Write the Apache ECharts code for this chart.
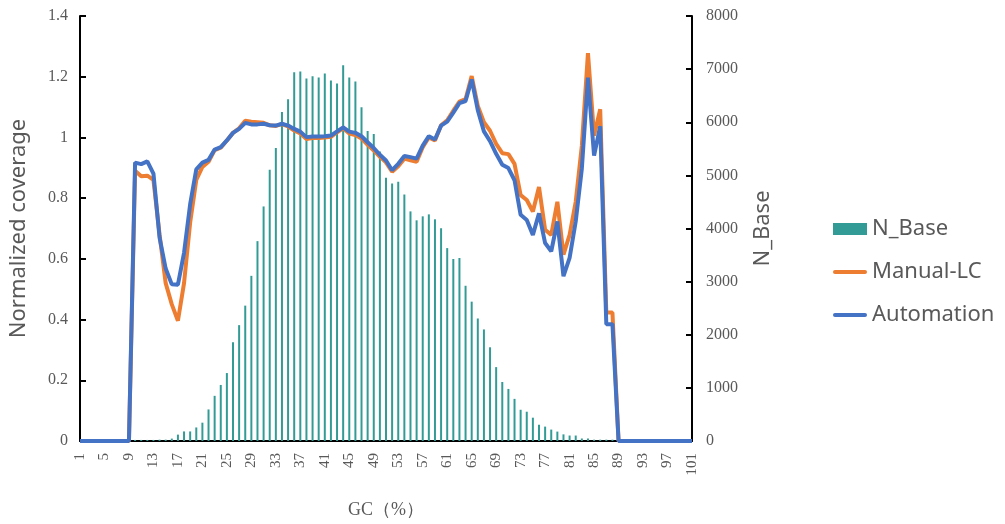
<!DOCTYPE html>
<html>
<head>
<meta charset="utf-8">
<script src="https://cdn.jsdelivr.net/npm/echarts@6/dist/echarts.min.js"></script>
<style>
html,body{margin:0;padding:0;background:#fff;}
#chart{width:1005px;height:524px;}
</style>
</head>
<body>
<div id="chart"></div>
<script>
// GC (%) categories 1..101
const categories = [];
for (let i = 1; i <= 101; i++) categories.push(String(i));

const nBase = [
  0,0,0,0,0,0,0,0,0,
  20,20,20,20,25,25,45,120,180,180,255,
  345,594,850,1055,1279,1858,2181,2548,3109,3762,
  4415,5106,5517,6195,6432,6942,6955,6824,6867,6843,
  6917,6787,6731,7073,6843,6768,6283,5834,5778,5450,
  4957,4845,4882,4640,4322,4154,4229,4266,4173,4005,
  3631,3426,3445,2922,2623,2306,2100,1764,1391,1111,
  980,793,588,551,439,308,271,215,177,125,
  103,103,47,47,25,25,25,25,
  0,0,0,0,0,0,0,0,0,0,0,0,0
];

const manualLC = [
  0,0,0,0,0,0,0,0,0,
  0.89,0.872,0.874,0.86,0.68,0.52,0.45,0.396,0.52,0.72,0.86,
  0.903,0.92,0.958,0.966,0.99,1.015,1.03,1.055,1.052,1.05,
  1.048,1.04,1.038,1.044,1.036,1.023,1.013,0.995,0.998,0.998,
  1.0,1.002,1.017,1.03,1.013,1.008,0.996,0.976,0.957,0.936,
  0.918,0.887,0.905,0.93,0.925,0.92,0.968,1.0,0.99,1.04,
  1.056,1.088,1.118,1.126,1.202,1.104,1.05,1.022,0.979,0.948,
  0.945,0.913,0.81,0.794,0.756,0.837,0.696,0.679,0.788,0.614,
  0.679,0.788,0.973,1.278,1.006,1.093,0.423,0.423,
  0,0,0,0,0,0,0,0,0,0,0,0,0
];

const automation = [
  0,0,0,0,0,0,0,0,0,
  0.917,0.912,0.921,0.881,0.67,0.568,0.516,0.515,0.62,0.78,0.895,
  0.917,0.926,0.96,0.968,0.99,1.015,1.028,1.048,1.043,1.043,
  1.045,1.04,1.039,1.045,1.039,1.028,1.019,1.001,1.003,1.003,
  1.004,1.006,1.02,1.033,1.019,1.015,1.004,0.984,0.965,0.943,
  0.924,0.892,0.913,0.939,0.935,0.93,0.973,1.004,0.993,1.039,
  1.052,1.082,1.113,1.12,1.191,1.09,1.02,0.988,0.946,0.91,
  0.899,0.859,0.745,0.728,0.679,0.75,0.652,0.625,0.723,0.543,
  0.603,0.723,0.897,1.197,0.94,1.037,0.385,0.385,
  0,0,0,0,0,0,0,0,0,0,0,0,0
];

const grey = '#595959';
const serif = '"Liberation Serif", "DejaVu Serif", serif';
const sans = '"Noto Sans", "Open Sans", sans-serif';
const lineIcon = 'path://M2,0 L32,0 A2,2 0 0 1 32,4 L2,4 A2,2 0 0 1 2,0 Z';

const chart = echarts.init(document.getElementById('chart'), null, {renderer: 'canvas'});
chart.setOption({
  animation: false,
  backgroundColor: '#ffffff',
  grid: {left: 80, right: 313, top: 16, bottom: 80, containLabel: false},
  legend: {
    orient: 'vertical',
    left: 828,
    top: 213,
    itemGap: 21,
    itemWidth: 34,
    itemHeight: 12,
    textStyle: {color: grey, fontSize: 22, fontFamily: sans},
    data: [
      {name: 'N_Base', icon: 'rect'},
      {name: 'Manual-LC', icon: lineIcon},
      {name: 'Automation', icon: lineIcon}
    ]
  },
  xAxis: {
    type: 'category',
    data: categories,
    boundaryGap: false,
    name: 'GC（%）',
    nameLocation: 'middle',
    nameGap: 60,
    nameTextStyle: {color: grey, fontSize: 18, fontFamily: serif},
    axisLine: {lineStyle: {color: '#000', width: 2}},
    axisTick: {show: false},
    axisLabel: {interval: 3, rotate: 90, color: grey, fontSize: 15, fontFamily: serif, margin: 12}
  },
  yAxis: [
    {
      type: 'value',
      min: 0, max: 1.4, interval: 0.2,
      name: 'Normalized coverage',
      nameLocation: 'middle',
      nameGap: 50,
      nameTextStyle: {color: grey, fontSize: 22, fontFamily: sans},
      axisLine: {show: true, lineStyle: {color: '#000', width: 2}},
      axisTick: {show: true, inside: true, length: 6, lineStyle: {color: '#000', width: 2}},
      axisLabel: {color: grey, fontSize: 16, fontFamily: serif, margin: 12},
      splitLine: {show: false}
    },
    {
      type: 'value',
      min: 0, max: 8000, interval: 1000,
      name: 'N_Base',
      nameLocation: 'middle',
      nameGap: 60,
      nameRotate: 90,
      nameTextStyle: {color: grey, fontSize: 22, fontFamily: sans},
      axisLine: {show: true, lineStyle: {color: '#000', width: 2}},
      axisTick: {show: true, inside: true, length: 6, lineStyle: {color: '#000', width: 2}},
      axisLabel: {color: grey, fontSize: 16, fontFamily: serif, margin: 14, formatter: function (v) { return String(v); }},
      splitLine: {show: false}
    }
  ],
  series: [
    {
      name: 'N_Base',
      type: 'bar',
      yAxisIndex: 1,
      data: nBase,
      barWidth: 2,
      itemStyle: {color: '#339B95'}
    },
    {
      name: 'Manual-LC',
      type: 'line',
      yAxisIndex: 0,
      data: manualLC,
      symbol: 'none',
      lineStyle: {color: '#ED7D31', width: 4},
      itemStyle: {color: '#ED7D31'}
    },
    {
      name: 'Automation',
      type: 'line',
      yAxisIndex: 0,
      data: automation,
      symbol: 'none',
      lineStyle: {color: '#4472C4', width: 4},
      itemStyle: {color: '#4472C4'}
    }
  ]
});
</script>
</body>
</html>
